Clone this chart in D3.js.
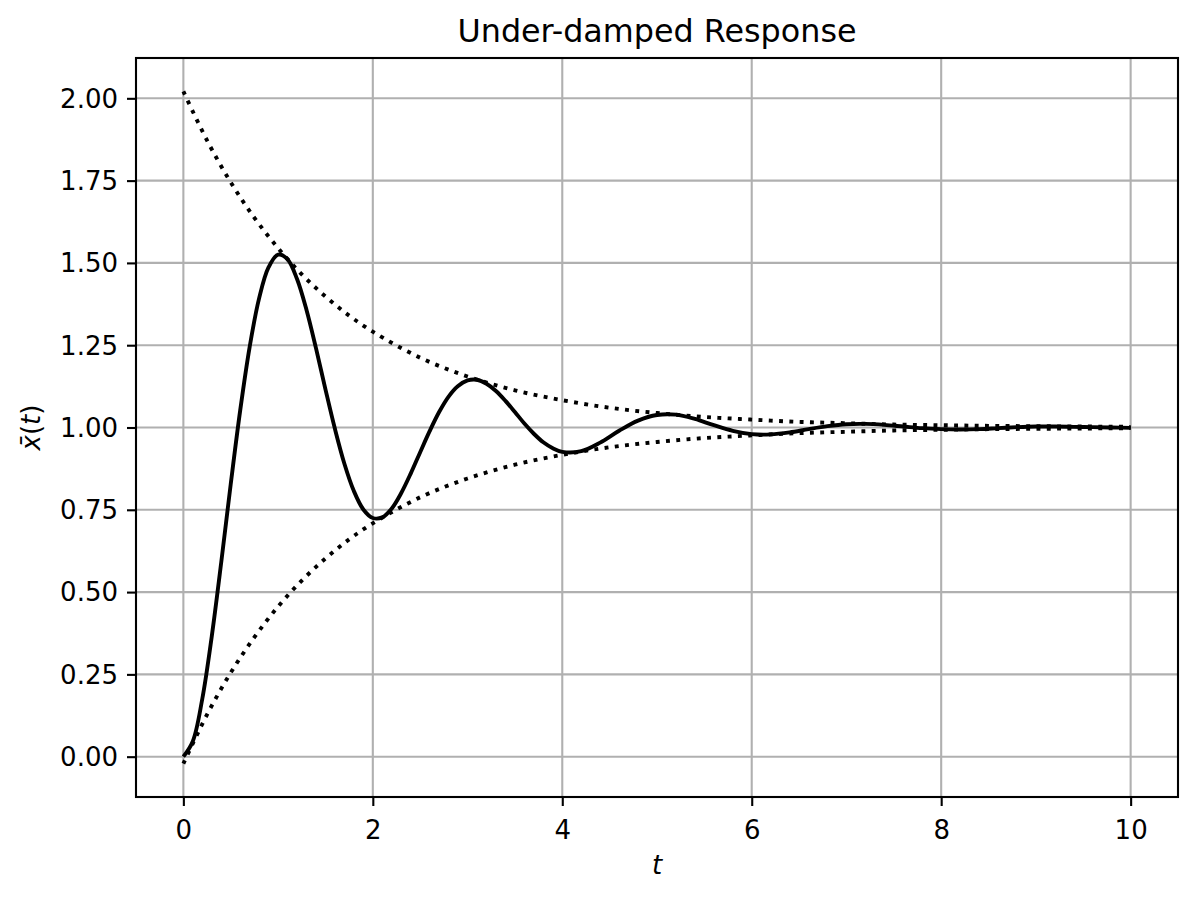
<!DOCTYPE html>
<html>
<head>
<meta charset="utf-8">
<script src="https://cdn.jsdelivr.net/npm/d3@7"></script>
<style>
  html, body { margin: 0; padding: 0; background: #fff; }
  svg { display: block; }
  text { font-family: "DejaVu Sans", sans-serif; fill: #000; }
</style>
</head>
<body>
<svg id="chart" width="1197" height="898"></svg>
<script>
// ---- data ----
const respT = [0,0.1,0.2,0.3,0.4,0.5,0.6,0.7,0.8,0.9,1.0,1.1,1.2,1.3,1.4,1.5,1.6,1.7,1.8,1.9,
  2.0,2.1,2.2,2.3,2.4,2.5,2.6,2.7,2.8,2.9,3.0,3.1,3.2,3.3,3.4,3.5,3.6,3.7,3.8,3.9,4.0,
  4.2,4.4,4.6,4.8,5.0,5.2,5.4,5.6,5.8,6.0,6.2,6.4,6.6,6.8,7.0,7.2,7.4,7.6,7.8,8.0,
  8.2,8.4,8.6,8.8,9.0,9.2,9.4,9.6,9.8,10.0];
const respX = [0.000,0.047,0.176,0.366,0.591,0.828,1.052,1.245,1.393,1.487,1.525,1.511,1.451,1.357,1.241,1.116,0.996,0.890,0.807,0.751,
  0.725,0.727,0.754,0.801,0.860,0.925,0.989,1.047,1.094,1.126,1.143,1.145,1.133,1.111,1.081,1.047,1.012,0.981,0.955,0.937,0.926,
  0.928,0.954,0.990,1.021,1.038,1.039,1.026,1.007,0.990,0.980,0.979,0.985,0.995,1.004,1.010,1.011,1.008,1.003,0.998,0.995,
  0.994,0.995,0.998,1.001,1.003,1.003,1.002,1.001,1.000,0.999];
const envT = [0,0.25,0.5,0.75,1.0,1.25,1.5,1.75,2.0,2.5,3.0,3.5,4.0,4.5,5.0,5.5,6.0,6.5,7.0,7.5,8.0,8.5,9.0,9.5,10.0];
const envUpper = [2.021,1.872,1.745,1.637,1.545,1.465,1.398,1.340,1.291,1.212,1.155,1.113,1.083,1.060,1.044,1.032,1.024,1.017,1.013,1.009,1.007,1.005,1.004,1.003,1.002];
const envLower = [-0.021,0.128,0.255,0.363,0.456,0.535,0.602,0.660,0.709,0.788,0.845,0.887,0.917,0.940,0.956,0.968,0.976,0.983,0.987,0.991,0.993,0.995,0.996,0.997,0.998];
const xTicks = [0,2,4,6,8,10];
const yTicks = [0,0.25,0.5,0.75,1.0,1.25,1.5,1.75,2.0];
const titleText = "Under-damped Response";

// ---- layout ----
const L = 136, R = 1178, T = 58, B = 797;
const svg = d3.select("#chart");
const x = d3.scaleLinear().domain([-0.5, 10.5]).range([L, R]);
const y = d3.scaleLinear().domain([-0.1225, 2.1225]).range([B, T]);

const gridColor = "#b0b0b0";
const fs = 26;

// grid
const grid = svg.append("g");
grid.selectAll("line.gx").data(xTicks).join("line")
  .attr("x1", d => x(d)).attr("x2", d => x(d)).attr("y1", T).attr("y2", B)
  .attr("stroke", gridColor).attr("stroke-width", 2.1);
grid.selectAll("line.gy").data(yTicks).join("line")
  .attr("y1", d => y(d)).attr("y2", d => y(d)).attr("x1", L).attr("x2", R)
  .attr("stroke", gridColor).attr("stroke-width", 2.1);

// clip
svg.append("clipPath").attr("id", "clip").append("rect")
  .attr("x", L).attr("y", T).attr("width", R - L).attr("height", B - T);

const plot = svg.append("g").attr("clip-path", "url(#clip)");
const lineGen = d3.line().curve(d3.curveCatmullRom.alpha(0.5));

plot.append("path")
  .attr("d", lineGen(respT.map((t, i) => [x(t), y(respX[i])])))
  .attr("fill", "none").attr("stroke", "#000").attr("stroke-width", 3.9)
  .attr("stroke-linejoin", "round").attr("stroke-linecap", "butt");

[envUpper, envLower].forEach(arr => {
  plot.append("path")
    .attr("d", lineGen(envT.map((t, i) => [x(t), y(arr[i])])))
    .attr("fill", "none").attr("stroke", "#000").attr("stroke-width", 3.9)
    .attr("stroke-dasharray", "3.9,6.4").attr("stroke-linecap", "butt");
});

// axes
const xAxis = svg.append("g").attr("transform", `translate(0,${B})`)
  .call(d3.axisBottom(x).tickValues(xTicks).tickSize(9).tickPadding(9).tickFormat(d3.format("d")));
const yAxis = svg.append("g").attr("transform", `translate(${L},0)`)
  .call(d3.axisLeft(y).tickValues(yTicks).tickSize(9).tickPadding(9).tickFormat(d3.format(".2f")));
[xAxis, yAxis].forEach(g => {
  g.select(".domain").remove();
  g.selectAll(".tick line").attr("stroke", "#000").attr("stroke-width", 2.1);
  g.selectAll(".tick text").attr("font-size", fs).attr("font-family", "DejaVu Sans").attr("fill", "#000");
});
xAxis.selectAll(".tick text").attr("y", 42).attr("dy", null);
yAxis.selectAll(".tick text").attr("dy", "0.34em");

// frame
svg.append("rect").attr("x", L).attr("y", T).attr("width", R - L).attr("height", B - T)
  .attr("fill", "none").attr("stroke", "#000").attr("stroke-width", 2.1);

// title and labels
svg.append("text").attr("x", (L + R) / 2).attr("y", 42).attr("text-anchor", "middle")
  .attr("font-size", 31.8).text(titleText);
svg.append("text").attr("x", (L + R) / 2).attr("y", 874).attr("text-anchor", "middle")
  .attr("font-size", fs).attr("font-style", "italic").text("t");
const yl = svg.append("text").attr("transform", `translate(40,${(T + B) / 2}) rotate(-90)`)
  .attr("text-anchor", "middle").attr("font-size", fs);
yl.append("tspan").attr("font-style", "italic").text("x\u0304");
yl.append("tspan").text("(");
yl.append("tspan").attr("font-style", "italic").text("t");
yl.append("tspan").text(")");
</script>
</body>
</html>
